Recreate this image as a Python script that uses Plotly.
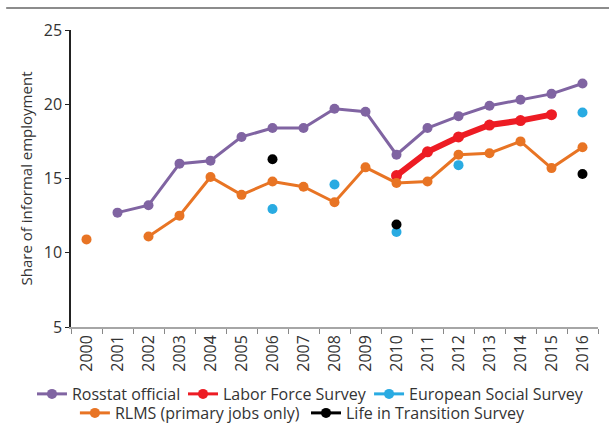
import plotly.graph_objects as go

# Years on the category axis
years = [str(y) for y in range(2000, 2017)]

# Share of informal employment, % (None = no observation)
rosstat = [None, 12.7, 13.2, 16.0, 16.2, 17.8, 18.4, 18.4, 19.7, 19.5,
           16.6, 18.4, 19.2, 19.9, 20.3, 20.7, 21.4]
lfs = [None, None, None, None, None, None, None, None, None, None,
       15.2, 16.8, 17.8, 18.6, 18.9, 19.3, None]
ess = [None, None, None, None, None, None, 12.95, None, 14.6, None,
       11.4, None, 15.9, None, None, None, 19.45]
rlms = [10.9, None, 11.1, 12.5, 15.1, 13.9, 14.8, 14.45, 13.4, 15.75,
        14.7, 14.8, 16.6, 16.7, 17.5, 15.7, 17.1]
lits = [None, None, None, None, None, None, 16.3, None, None, None,
        11.9, None, None, None, None, None, 15.3]

FONT = "Open Sans"
TXT = "#333333"

fig = go.Figure()

def add(name, vals, color, width, size, legend):
    # plotted series (kept out of the legend)
    fig.add_trace(go.Scatter(
        x=years, y=vals, name=name, mode="lines+markers",
        line=dict(color=color, width=width),
        marker=dict(color=color, size=size),
        connectgaps=False, showlegend=False,
    ))
    # legend key drawn with a uniform thin line
    fig.add_trace(go.Scatter(
        x=[None], y=[None], name=name, mode="lines+markers",
        line=dict(color=color, width=3),
        marker=dict(color=color, size=10),
        legend=legend, hoverinfo="skip",
    ))

# each series gets its own legend box so the two legend rows can be laid out freely
add("Rosstat official", rosstat, "#8064a2", 3, 10, "legend")
add("Labor Force Survey", lfs, "#ed1c24", 6, 11, "legend2")
add("European Social Survey", ess, "#29abe2", 3, 10, "legend3")
add("RLMS (primary jobs only)", rlms, "#e87424", 3, 10, "legend4")
add("Life in Transition Survey", lits, "#000000", 3, 10, "legend5")

def leg(x, y):
    return dict(
        x=x, y=y, orientation="h", xref="container", yref="container",
        xanchor="left", yanchor="middle",
        font=dict(family=FONT, size=16, color=TXT),
        bgcolor="rgba(0,0,0,0)", itemwidth=30,
    )

ROW1, ROW2 = 0.0943, 0.0506

fig.update_layout(
    width=609, height=435,
    margin=dict(l=71, r=11, t=30, b=108, autoexpand=False),
    paper_bgcolor="white", plot_bgcolor="white",
    font=dict(family=FONT, size=16, color=TXT),
    showlegend=True,
    legend=leg(0.0525, ROW1),
    legend2=leg(0.3005, ROW1),
    legend3=leg(0.606, ROW1),
    legend4=leg(0.123, ROW2),
    legend5=leg(0.5025, ROW2),
    xaxis=dict(
        type="category", categoryorder="array", categoryarray=years,
        range=[-0.5, 16.5], tickson="boundaries",
        ticks="outside", ticklen=5, tickcolor="#888888",
        showline=True, linecolor="#a6a6a6", linewidth=1.5,
        showgrid=False, zeroline=False, tickangle=-90, automargin=False,
        tickfont=dict(family=FONT, size=16, color=TXT),
    ),
    yaxis=dict(
        range=[5, 25], tickvals=[5, 10, 15, 20, 25],
        ticks="outside", ticklen=4, tickcolor="#222222",
        showline=True, linecolor="#222222", linewidth=1.5,
        showgrid=False, zeroline=False, automargin=False,
        tickfont=dict(family=FONT, size=16, color=TXT),
        title=dict(text="Share of informal employment",
                   font=dict(family=FONT, size=15, color=TXT), standoff=8),
    ),
    shapes=[dict(
        type="line", xref="paper", yref="paper",
        x0=-0.123, x1=1.03, y0=1.074, y1=1.074,
        line=dict(color="#8c8c8c", width=2),
    )],
)

fig.write_html("out.html")
